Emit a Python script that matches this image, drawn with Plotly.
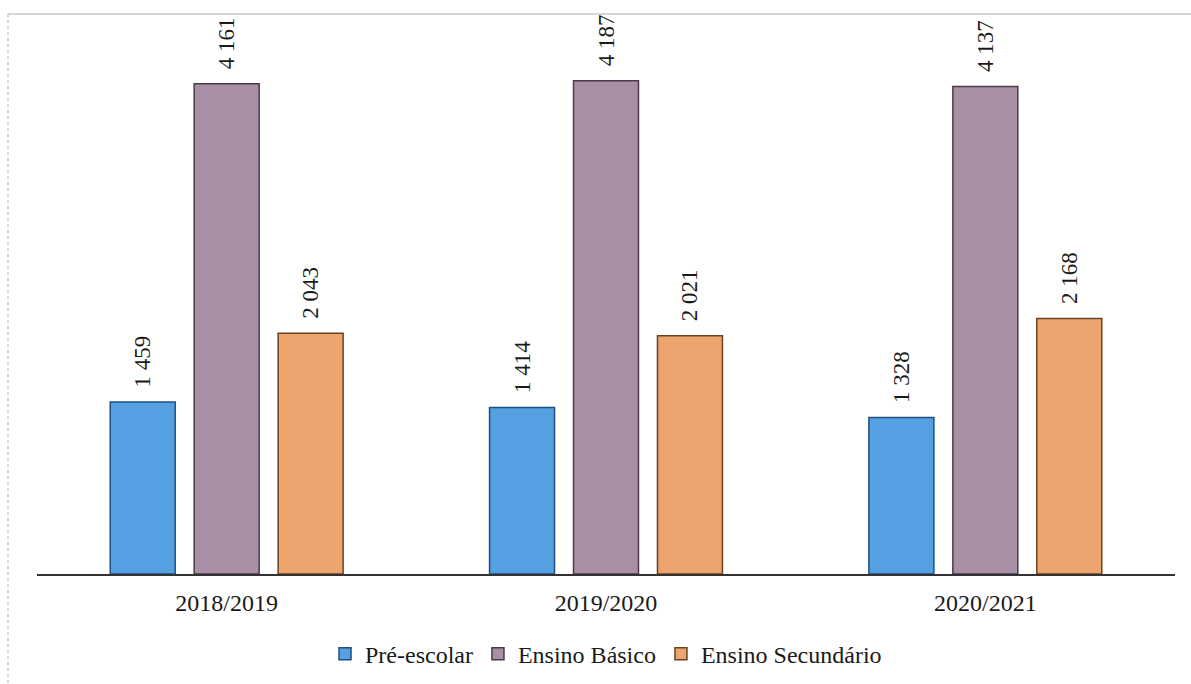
import plotly.graph_objects as go

# School years and enrolment counts per education level
anos = ["2018/2019", "2019/2020", "2020/2021"]
pre_escolar = [1459, 1414, 1328]
ensino_basico = [4161, 4187, 4137]
ensino_secundario = [2043, 2021, 2168]

series = [
    ("Pré-escolar", pre_escolar, "#559fe3", "#1f4f80"),
    ("Ensino Básico", ensino_basico, "#a98fa5", "#4a3a48"),
    ("Ensino Secundário", ensino_secundario, "#eca56f", "#6a4322"),
]


def fmt(v):
    # thousands separated by a space, padded so the label sits clear of the bar
    s = f"{v:,}".replace(",", " ")
    return "\u00a0\u00a0" + s


FONT = "Liberation Serif"
INK = "#1a1a1a"

fig = go.Figure()
for nome, valores, cor, borda in series:
    fig.add_trace(go.Bar(
        name=nome,
        x=anos,
        y=valores,
        text=[fmt(v) for v in valores],
        textposition="outside",
        textangle=-90,
        textfont=dict(family=FONT, size=23, color=INK),
        cliponaxis=False,
        marker=dict(color=cor, line=dict(color=borda, width=1.5)),
    ))

fig.update_layout(
    width=1191,
    height=684,
    barmode="group",
    bargap=0.336,
    bargroupgap=0.226,
    paper_bgcolor="white",
    plot_bgcolor="white",
    margin=dict(l=37, r=16, t=32, b=110, autoexpand=False),
    font=dict(family=FONT, size=24, color=INK),
    showlegend=True,
    legend=dict(
        orientation="h",
        x=0.5,
        xanchor="center",
        y=-0.148,
        yanchor="middle",
        font=dict(family=FONT, size=24, color=INK),
        itemwidth=30,
        traceorder="normal",
    ),
    xaxis=dict(
        showline=True,
        linecolor="#333333",
        linewidth=2,
        ticks="",
        automargin=False,
        ticklabelstandoff=6,
        tickfont=dict(family=FONT, size=24, color=INK),
        showgrid=False,
    ),
    yaxis=dict(
        range=[0, 4600],
        visible=False,
        showgrid=False,
        zeroline=False,
        automargin=False,
    ),
    shapes=[
        # light frame around the chart
        dict(type="line", xref="paper", yref="paper",
             x0=-0.0255, x1=1.02, y0=1.033, y1=1.033,
             line=dict(color="#d6d6d6", width=2)),
        dict(type="line", xref="paper", yref="paper",
             x0=-0.0255, x1=-0.0255, y0=1.033, y1=-0.21,
             line=dict(color="#d6d6d6", width=2, dash="dot")),
    ],
)

fig.write_html("out.html")
